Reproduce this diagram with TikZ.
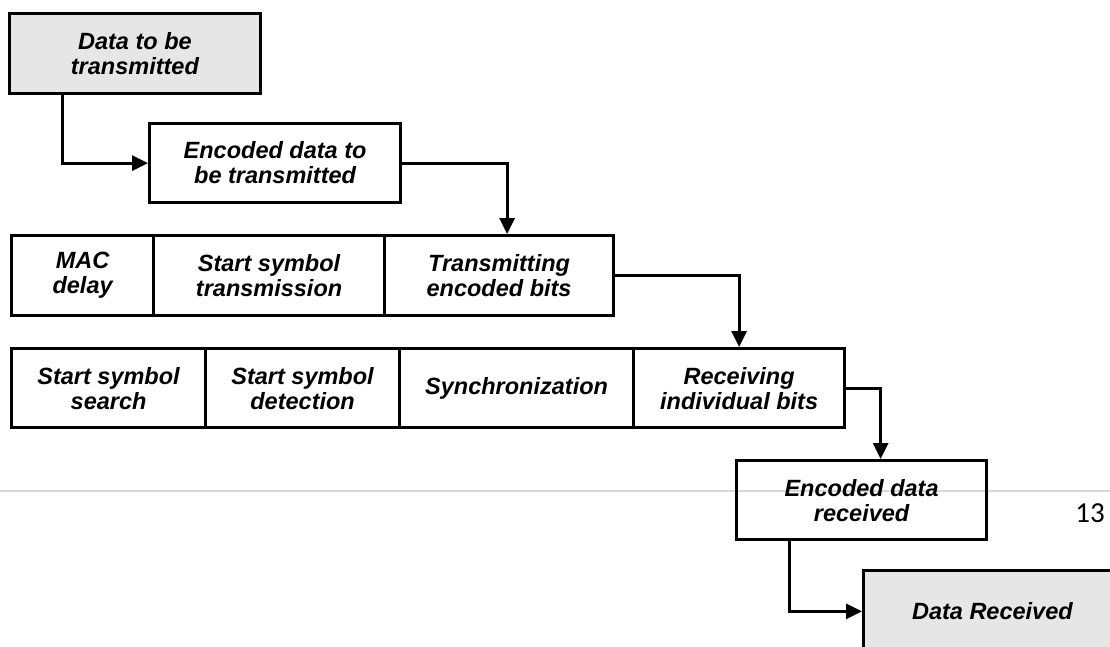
\documentclass[tikz,border=0pt]{standalone}
\usepackage{fontspec}
\setmainfont{Liberation Sans}
\newfontfamily\pagenumfont{Carlito}
\usetikzlibrary{arrows.meta}

\definecolor{boxgray}{HTML}{E6E6E6}
\definecolor{rulegray}{HTML}{D9D9D9}

\tikzset{
  cell/.style={draw=black, line width=3.2pt, anchor=north west, inner sep=0pt,
    align=center, font=\fontsize{23.5}{25}\selectfont\bfseries\itshape},
  endbox/.style={cell, fill=boxgray, line width=2.8pt},
  flow/.style={draw=black, line width=3pt,
    -{Triangle[length=16pt,width=15pt]}},
}

\begin{document}
\begin{tikzpicture}[x=1pt,y=-1pt]
\useasboundingbox (0,0) rectangle (1110,646);
\clip (0,0) rectangle (1110,646);

% slide separator rule and page number
\draw[rulegray, line width=2.2pt] (0,491) -- (1110,491);
\node[font=\pagenumfont\fontsize{29}{30}\selectfont] (pagenum) at (1090,513) {13};

% sender side
\node[endbox, minimum width=251pt, minimum height=80pt] (src) at (8,12) {Data to be\\transmitted};
\node[cell, minimum width=251pt, minimum height=79pt] (enc) at (148,122) {Encoded data to\\be transmitted};

% transmission phases
\node[cell, minimum width=142pt, minimum height=80pt] (mac) at (10,234) {MAC\\delay};
\node[cell, minimum width=231pt, minimum height=80pt] (sst) at (152,234) {Start symbol\\transmission};
\node[cell, minimum width=229pt, minimum height=80pt] (teb) at (383,234) {Transmitting\\encoded bits};

% reception phases
\node[cell, minimum width=194pt, minimum height=79pt] (sss) at (10,347) {Start symbol\\search};
\node[cell, minimum width=194pt, minimum height=79pt] (ssd) at (204,347) {Start symbol\\detection};
\node[cell, minimum width=234pt, minimum height=79pt] (syn) at (398,347) {Synchronization};
\node[cell, minimum width=211pt, minimum height=79pt] (rib) at (632,347) {Receiving\\individual bits};

% receiver side
\node[cell, minimum width=250pt, minimum height=79pt] (rcv) at (735,459) {Encoded data\\received};
\node[endbox, minimum width=258pt, minimum height=82pt] (dst) at (862,569) {Data Received};

% connectors
\draw[flow] ([xshift=54pt]src.south west) |- (enc.west);
\draw[flow] (enc.east) -| ([xshift=8pt]teb.north);
\draw[flow] (teb.east) -| (rib.north);
\draw[flow] (rib.east) -| ([xshift=19pt]rcv.north);
\draw[flow] ([xshift=54pt]rcv.south west) |- (dst.west);
\end{tikzpicture}
\end{document}
